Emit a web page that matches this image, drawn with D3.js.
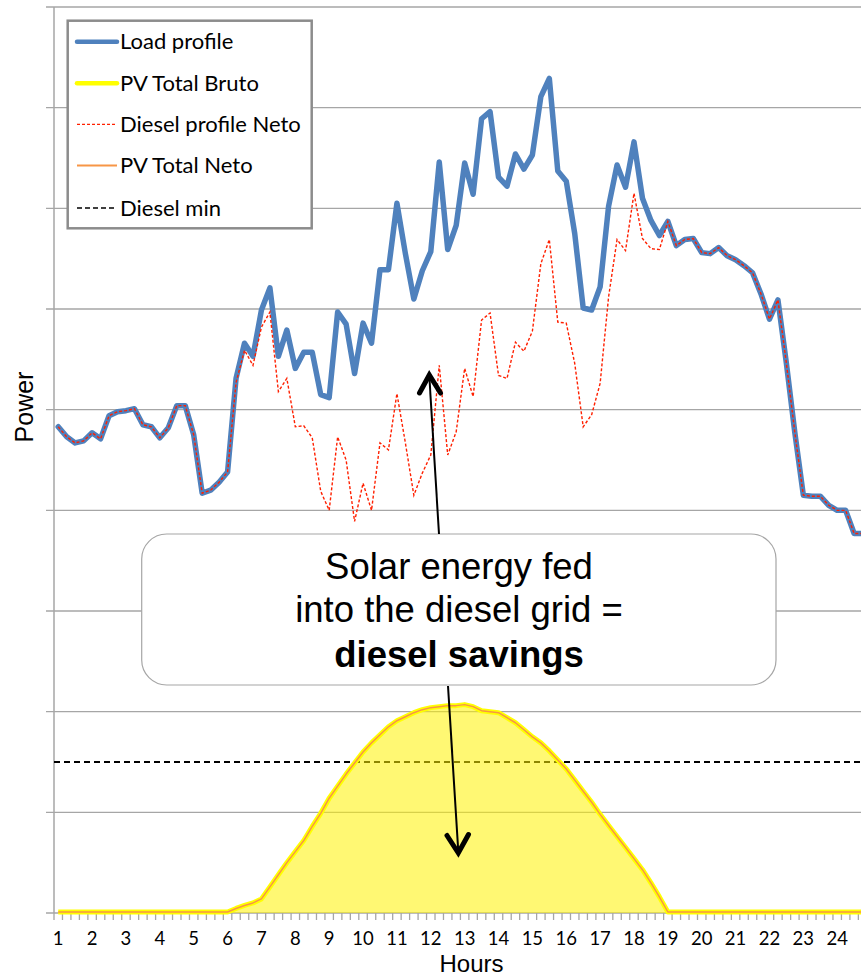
<!DOCTYPE html>
<html><head><meta charset="utf-8">
<script src="https://cdn.jsdelivr.net/npm/d3@7"></script>
<style>body{margin:0;background:#fff}svg{display:block}</style>
</head><body><svg id="c" width="861" height="975"></svg>
<script>
const hourLabels = ["1","2","3","4","5","6","7","8","9","10","11","12","13","14","15","16","17","18","19","20","21","22","23","24"];
const slots = hourLabels.flatMap(h => ["00","15","30","45"].map(m => h + ":" + m));
const loadProfile = [483,473,467,469,477,471,494,498,499,501,485,483,472,482,504,504,475,417,420,428,
  438,531,566,553,599,621,553,579,541,557,557,515,512,597,585,536,586,566,639,639,
  705,655,610,638,657,746,659,683,745,714,789,796,731,722,754,739,753,811,829,737,
  727,675,601,599,622,702,743,721,766,710,688,673,687,663,669,670,656,655,661,653,
  649,643,636,615,590,609,546,477,415,414,414,405,400,400,377,377];
const pvBruto = [1,1,1,1,1,1,1,1,1,1,1,1,1,1,1,1,1,1,1,1,
  1,4.5,7.5,10,14,26,38,50,61,72,86,99,114,126,138,149,160,169,177,185,
  191,195,199,202,204,205,206,206,207,205,201,200,199,194,189,182,175,169,161,152,
  143,132,121,110,98,87,76,65,54,43,30,16,1,1,1,1,1,1,1,1,
  1,1,1,1,1,1,1,1,1,1,1,1,1,1,1,1];
const pvNeto = [1,1,1,1,1,1,1,1,1,1,1,1,1,1,1,1,1,1,1,1,
  1,4.5,7.5,10,14,26,38,50,61,72,86,99,114,126,138,149,160,169,177,185,
  191,195,199,202,204,205,206,206,207,205,201,200,199,194,189,182,175,169,161,152,
  143,132,121,110,98,87,76,65,54,43,30,16,1,1,1,1,1,1,1,1,
  1,1,1,1,1,1,1,1,1,1,1,1,1,1,1,1];
const dieselNeto = [483,473,467,469,477,471,494,498,499,501,485,483,472,482,504,504,475,417,420,428,
  438,527,559,544,582,597,518,531,483,484,472,419,400,473,450,389,427,400,467,460,
  516,467,415,437,455,544,455,478,541,513,589,596,534,531,567,558,578,645,669,587,
  586,546,483,495,526,612,669,658,715,670,660,659,687,663,669,670,656,655,661,653,
  649,643,636,615,590,609,546,477,415,414,414,405,400,400,377,377];
const dieselMin = 150;
const yTicks = [0,100,200,300,400,500,600,700,800,900];
const legendItems = ["Load profile","PV Total Bruto","Diesel profile Neto","PV Total Neto","Diesel min"];
const calloutLines = ["Solar energy fed","into the diesel grid =","diesel savings"];
const xTitle = "Hours", yTitle = "Power";

const svg = d3.select("#c");
const x = d3.scaleBand().domain(slots).range([54, 54 + 96 * 8.467]).padding(0);
const cx = i => x(slots[i]) + x.bandwidth() / 2;
const y = d3.scaleLinear().domain([0, 900]).range([913, 7]);
const gridC = "#a6a6a6";

// gridlines
svg.append("g").selectAll("line").data(yTicks).join("line")
  .attr("x1", 46).attr("x2", 861).attr("y1", d => y(d)).attr("y2", d => y(d))
  .attr("stroke", gridC).attr("stroke-width", 1.3);
// y axis line
svg.append("line").attr("x1", 54).attr("x2", 54).attr("y1", y(900)).attr("y2", y(0))
  .attr("stroke", gridC).attr("stroke-width", 1.5);
// x ticks at category boundaries
svg.append("g").selectAll("line").data(slots).join("line")
  .attr("x1", d => x(d)).attr("x2", d => x(d)).attr("y1", y(0)).attr("y2", y(0) + 7)
  .attr("stroke", gridC).attr("stroke-width", 1.3);
// x labels
svg.append("g").selectAll("text").data(hourLabels).join("text")
  .attr("x", (d, k) => cx(k * 4)).attr("y", 945).attr("text-anchor", "middle")
  .attr("font-family", "Lato, sans-serif").attr("font-size", 18.5).attr("fill", "#000").text(d => d);
// axis titles
svg.append("text").attr("x", 471.5).attr("y", 971.5).attr("text-anchor", "middle")
  .attr("font-family", "'Liberation Sans', Arial, sans-serif").attr("font-size", 24).text(xTitle);
svg.append("text").attr("transform", "translate(33,407) rotate(-90)").attr("text-anchor", "middle")
  .attr("font-family", "'Liberation Sans', Arial, sans-serif").attr("font-size", 25).text(yTitle);

// diesel min line
svg.append("line").attr("x1", 54).attr("x2", 861).attr("y1", y(dieselMin)).attr("y2", y(dieselMin))
  .attr("stroke", "#000").attr("stroke-width", 1.8).attr("stroke-dasharray", "6,4");

const line = d3.line().x((d, i) => cx(i)).y(d => y(d));
const area = d3.area().x((d, i) => cx(i)).y0(y(0)).y1(d => y(d));

// PV area (semi-transparent yellow)
svg.append("path").datum(pvBruto).attr("d", area).attr("fill", "rgb(255,242,0)").attr("fill-opacity", 0.55);
svg.append("path").datum(pvBruto).attr("d", line).attr("fill", "none")
  .attr("stroke", "#ffff00").attr("stroke-width", 5).attr("stroke-linejoin", "round");
svg.append("path").datum(pvNeto).attr("d", line).attr("fill", "none")
  .attr("stroke", "#f79646").attr("stroke-width", 1.5).attr("stroke-linejoin", "round");
// load
svg.append("path").datum(loadProfile).attr("d", line).attr("fill", "none")
  .attr("stroke", "#4f81bd").attr("stroke-width", 5.5).attr("stroke-linejoin", "round").attr("stroke-linecap", "round");
// diesel neto
svg.append("path").datum(dieselNeto).attr("d", line).attr("fill", "none")
  .attr("stroke", "#ff2000").attr("stroke-width", 1.4).attr("stroke-dasharray", "3,2");

// legend
const lg = svg.append("g");
lg.append("rect").attr("x", 67.7).attr("y", 20.7).attr("width", 244).attr("height", 207.6)
  .attr("fill", "#fff").attr("stroke", "#8c8c8c").attr("stroke-width", 2.5);
const lstyles = [
  {c: "#4f81bd", w: 4.5, dash: null, cap: "round"},
  {c: "#ffff00", w: 4.5, dash: null, cap: "round"},
  {c: "#ff2000", w: 1.3, dash: "3,2", cap: "butt"},
  {c: "#f79646", w: 2, dash: null, cap: "butt"},
  {c: "#000", w: 1.5, dash: "5,3", cap: "butt"}
];
const rowY = [41.7, 83.3, 124.3, 165.5, 208];
legendItems.forEach((t, k) => {
  const s = lstyles[k];
  lg.append("line").attr("x1", 77).attr("x2", 117).attr("y1", rowY[k]).attr("y2", rowY[k])
    .attr("stroke", s.c).attr("stroke-width", s.w).attr("stroke-linecap", s.cap)
    .attr("stroke-dasharray", s.dash);
  lg.append("text").attr("x", 120).attr("y", rowY[k] + 7.5)
    .attr("font-family", "Lato, sans-serif").attr("font-size", 22).attr("fill", "#000").text(t);
});

// callout
svg.append("rect").attr("x", 141.7).attr("y", 534).attr("width", 634.3).attr("height", 151).attr("rx", 25)
  .attr("fill", "#fff").attr("stroke", "#a6a6a6").attr("stroke-width", 1.2);
const cyBase = [579, 622, 666.5];
calloutLines.forEach((t, k) => {
  svg.append("text").attr("x", 459).attr("y", cyBase[k]).attr("text-anchor", "middle")
    .attr("font-family", "'Liberation Sans', Arial, sans-serif").attr("font-size", 36.5)
    .attr("font-weight", k === 2 ? "bold" : "normal").attr("fill", "#000").text(t);
});

// arrows
svg.append("line").attr("x1", 439).attr("y1", 534).attr("x2", 429.3).attr("y2", 376)
  .attr("stroke", "#000").attr("stroke-width", 2);
svg.append("polyline").attr("points", "419.5,393 429.3,375 440.5,393").attr("fill", "none")
  .attr("stroke", "#000").attr("stroke-width", 5).attr("stroke-linejoin", "miter").attr("stroke-linecap", "round");
svg.append("line").attr("x1", 448).attr("y1", 686).attr("x2", 458.3).attr("y2", 852)
  .attr("stroke", "#000").attr("stroke-width", 2);
svg.append("polyline").attr("points", "447,835.5 458.3,853 468.5,834.5").attr("fill", "none")
  .attr("stroke", "#000").attr("stroke-width", 5).attr("stroke-linejoin", "miter").attr("stroke-linecap", "round");
</script></body></html>
